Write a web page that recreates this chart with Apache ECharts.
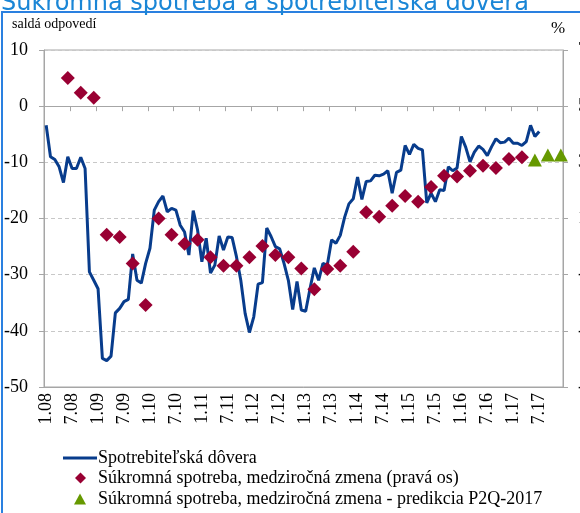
<!DOCTYPE html>
<html>
<head>
<meta charset="utf-8">
<script src="https://cdn.jsdelivr.net/npm/echarts@6/dist/echarts.min.js"></script>
<style>
html,body{margin:0;padding:0;background:#fff;}
#c{width:580px;height:513px;}
</style>
</head>
<body>
<div id="c"></div>
<script>
// Monthly categories Jan 2008 - Dec 2017 (tick labels "m.yy")
const months = [];
for (let y = 8; y <= 17; y++) {
  for (let m = 1; m <= 12; m++) {
    months.push(m + '.' + (y < 10 ? '0' + y : '' + y));
  }
}

// Spotrebiteľská dôvera (left axis), monthly from 1.08
const confidence = [
  -3.4, -9.0, -9.5, -10.8, -13.6, -9.0, -11.1, -11.1, -9.1, -11.1, -29.5, -31.0,
  -32.5, -44.9, -45.3, -44.5, -36.8, -36.0, -34.8, -34.4, -26.3, -31.0, -31.5, -28.0,
  -25.3, -18.5, -17.0, -16.0, -18.8, -18.2, -18.5, -21.2, -22.4, -26.5, -18.6, -22.0,
  -27.7, -23.5, -29.7, -28.3, -23.1, -25.6, -23.3, -23.4, -26.8, -31.0, -36.9, -40.3,
  -37.5, -31.7, -31.4, -21.7, -23.2, -25.0, -25.4, -28.0, -31.0, -36.2, -31.2, -36.3,
  -36.5, -32.5, -28.8, -31.0, -28.0, -28.3, -23.8, -24.4, -23.0, -19.8, -17.4, -16.5,
  -12.6, -16.6, -13.4, -13.3, -12.3, -12.4, -12.1, -11.5, -15.5, -11.8, -11.4, -7.0,
  -8.6, -6.8, -7.5, -7.8, -17.2, -15.5, -17.0, -14.9, -15.0, -10.8, -11.5, -11.0,
  -5.4, -7.3, -9.9, -8.2, -7.1, -7.7, -8.8, -7.2, -5.8, -6.5, -6.4, -5.7,
  -6.6, -6.6, -7.0, -6.3, -3.4, -5.4, -4.5
];

// Súkromná spotreba, medziročná zmena (right axis), quarterly
const consumptionMonths = [
  '6.08', '9.08', '12.08',
  '3.09', '6.09', '9.09', '12.09',
  '3.10', '6.10', '9.10', '12.10',
  '3.11', '6.11', '9.11', '12.11',
  '3.12', '6.12', '9.12', '12.12',
  '3.13', '6.13', '9.13', '12.13',
  '3.14', '6.14', '9.14', '12.14',
  '3.15', '6.15', '9.15', '12.15',
  '3.16', '6.16', '9.16', '12.16',
  '3.17'
];
const consumption = [
  6.0, 5.48, 5.3,
  0.42, 0.34, -0.6, -2.08,
  1.0, 0.42, 0.1, 0.24,
  -0.38, -0.68, -0.68, -0.38,
  0.02, -0.3, -0.38, -0.78,
  -1.52, -0.8, -0.68, -0.18,
  1.22, 1.06, 1.45, 1.8,
  1.6, 2.12, 2.52, 2.5,
  2.7, 2.88, 2.8, 3.12,
  3.18
];

// Predikcia P2Q-2017 (right axis)
const predictionMonths = ['6.17', '9.17', '12.17'];
const prediction = [3.08, 3.26, 3.26];

const leftTicks = { min: -50, max: 10, interval: 10 };
const rightTicks = { min: -5, max: 7, interval: 2 };

const names = {
  line: 'Spotrebiteľská dôvera',
  cons: 'Súkromná spotreba, medziročná zmena (pravá os)',
  pred: 'Súkromná spotreba, medziročná zmena - predikcia P2Q-2017'
};

const serif = '"Liberation Serif", "Times New Roman", serif';
const gray = '#a6a6a6';
const navy = '#083c8c';
const crimson = '#990033';
const green = '#669900';

const legendText = (padLeft) => ({
  fontFamily: serif, fontSize: 18, color: '#000', lineHeight: 18,
  padding: [0, 0, 0, padLeft]
});

const chart = echarts.init(document.getElementById('c'), null, { renderer: 'canvas' });

chart.setOption({
  animation: false,
  backgroundColor: '#ffffff',
  grid: {
    left: 44, right: 17, top: 50, bottom: 126,
    containLabel: false, outerBoundsMode: 'none',
    show: true, borderColor: gray, borderWidth: 1, backgroundColor: 'transparent'
  },
  graphic: [
    {
      type: 'text', left: 1, top: -8, z: 10,
      style: {
        text: 'Súkromná spotreba a spotrebiteľská dôvera',
        font: '24px "DejaVu Sans", Verdana, sans-serif',
        fill: '#1a86d6'
      }
    },
    {
      type: 'rect', z: 9,
      shape: { x: 2, y: 12, width: 600, height: 520 },
      style: { fill: 'none', stroke: '#2a80e0', lineWidth: 2 }
    },
    {
      type: 'text', left: 12, top: 17,
      style: { text: 'saldá odpovedí', font: '14px ' + serif, fill: '#000' }
    },
    {
      type: 'text', left: 551, top: 20,
      style: { text: '%', font: '17px ' + serif, fill: '#000' }
    }
  ],
  legend: [
    {
      left: 63, top: 449, padding: 0, itemWidth: 34, itemHeight: 3, selectedMode: false,
      textStyle: legendText(-4),
      data: [{ name: names.line, icon: 'rect' }]
    },
    {
      left: 75, top: 469, padding: 0, itemWidth: 11, itemHeight: 11, selectedMode: false,
      textStyle: legendText(7),
      data: [{ name: names.cons, icon: 'diamond' }]
    },
    {
      left: 74, top: 490, padding: 0, itemWidth: 12, itemHeight: 11, selectedMode: false,
      textStyle: legendText(7),
      data: [{ name: names.pred, icon: 'triangle' }]
    }
  ],
  xAxis: [
    {
      type: 'category', data: months, boundaryGap: true,
      axisLine: { show: true, onZero: true, onZeroAxisIndex: 0, lineStyle: { color: gray, width: 1 } },
      axisTick: { show: true, interval: 5, length: 5, lineStyle: { color: gray } },
      axisLabel: { show: false },
      splitLine: { show: false }
    },
    {
      type: 'category', data: months, boundaryGap: true, position: 'bottom',
      axisLine: { show: true, onZero: false, lineStyle: { color: gray, width: 1 } },
      axisTick: { show: false },
      axisLabel: {
        show: true, interval: 5, rotate: 90, margin: 6,
        fontFamily: serif, fontSize: 18, color: '#000'
      },
      splitLine: { show: false }
    }
  ],
  yAxis: [
    {
      type: 'value', position: 'left',
      min: leftTicks.min, max: leftTicks.max, interval: leftTicks.interval,
      axisLine: { show: true, onZero: false, lineStyle: { color: gray } },
      axisTick: { show: true, length: 5, lineStyle: { color: gray } },
      axisLabel: { fontFamily: serif, fontSize: 18, color: '#000', margin: 16 },
      splitLine: { show: true, lineStyle: { color: '#c8c8c8', type: [4, 3], width: 1 } }
    },
    {
      type: 'value', position: 'right',
      min: rightTicks.min, max: rightTicks.max, interval: rightTicks.interval,
      axisLine: { show: true, onZero: false, lineStyle: { color: gray } },
      axisTick: { show: true, length: 5, lineStyle: { color: gray } },
      axisLabel: { fontFamily: serif, fontSize: 18, color: '#000', margin: 15 },
      splitLine: { show: false }
    }
  ],
  series: [
    {
      name: names.line, type: 'line', xAxisIndex: 0, yAxisIndex: 0,
      data: confidence,
      showSymbol: false, symbol: 'none',
      lineStyle: { color: navy, width: 3 },
      itemStyle: { color: navy },
      z: 3
    },
    {
      name: names.cons, type: 'scatter', xAxisIndex: 0, yAxisIndex: 1,
      data: consumptionMonths.map((m, i) => [m, consumption[i]]),
      symbol: 'diamond', symbolSize: 14,
      itemStyle: { color: crimson, opacity: 1 },
      z: 4
    },
    {
      name: names.pred, type: 'scatter', xAxisIndex: 0, yAxisIndex: 1,
      data: predictionMonths.map((m, i) => [m, prediction[i]]),
      symbol: 'triangle', symbolSize: [14, 13],
      itemStyle: { color: green, opacity: 1 },
      z: 4
    }
  ]
});
</script>
</body>
</html>
